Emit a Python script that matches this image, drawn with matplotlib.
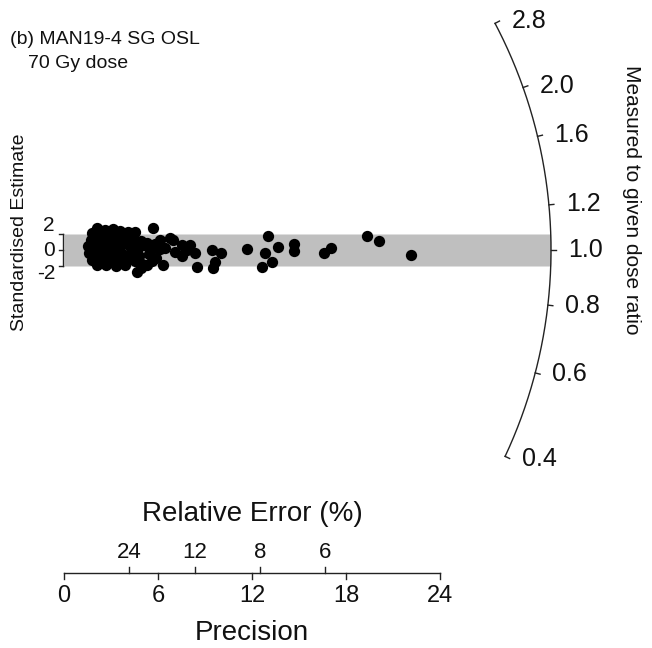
import numpy as np
import matplotlib
matplotlib.use("Agg")
import matplotlib.pyplot as plt

plt.rcParams['font.family'] = ['Liberation Sans', 'DejaVu Sans']

# precision (1/se) and standardised estimate of each aliquot
precision = [2.1, 2.6, 3.1, 3.6, 4.1, 4.5, 2.4, 3.8, 1.8,
             1.7, 2.2, 2.8, 3.3, 3.9, 4.4, 4.9, 5.3, 5.8, 3.0,
             1.5, 2.0, 2.5, 3.0, 3.6, 4.2, 4.7, 5.1, 5.6, 6.1,
             1.6, 2.1, 2.7, 3.2, 3.7, 4.3, 4.8, 5.4,
             1.8, 2.3, 2.9, 3.4, 4.0, 4.5, 5.0,
             2.1, 2.7, 3.3, 3.9,
             2.0, 2.5, 3.4, 4.0, 4.6, 3.0, 3.5, 4.1, 2.4, 4.4,
             4.64, 4.91, 5.30, 5.62,
             5.70, 6.13, 6.77, 6.45, 7.08, 7.51, 7.51, 7.85, 8.04, 8.36,
             8.51, 9.43, 9.53, 9.64, 10.0, 6.98, 6.34, 5.87, 11.66,
             13.04, 13.68, 12.83, 13.26, 12.62, 14.70, 14.70, 16.60, 17.04,
             19.32, 20.13, 22.13]
std_est = [2.7, 2.5, 2.6, 2.4, 2.3, 2.2, 2.0, 1.9, 2.1,
           1.3, 1.5, 1.4, 1.2, 1.5, 1.3, 1.1, 0.9, 0.8, 1.9,
           0.5, 0.6, 0.3, 0.7, 0.4, 0.5, 0.2, 0.6, 0.3, 0.1,
           -0.4, -0.6, -0.3, -0.7, -0.5, -0.2, -0.8, -0.5,
           -1.3, -1.5, -1.3, -1.6, -1.1, -1.4, -1.7,
           -1.9, -1.9, -2.0, -1.9,
           1.0, 0.9, 0.8, 1.0, 0.8, -0.1, 0.0, -0.9, -1.0, -0.6,
           -2.71, -2.25, -1.88, -1.38,
           2.71, 1.25, 1.5, 0.25, -0.25, 0.66, -0.79, 0.0, 0.66, -0.38,
           -2.16, 0.04, -2.25, -1.5, -0.38, 1.25, -1.84, -1.0, 0.09,
           1.71, 0.34, -0.38, -1.54, -2.16, 0.75, -0.09, -0.38, 0.25,
           1.71, 1.16, -0.66]

prec_ticks = [0, 6, 12, 18, 24]
relerr_ticks = [24, 12, 8, 6]
ratio_ticks = [0.4, 0.6, 0.8, 1.0, 1.2, 1.6, 2.0, 2.8]
ratio_labels = ['0.4', '0.6', '0.8', '1.0', '1.2', '1.6', '2.0', '2.8']
central = 1.0

# pixel geometry
W, H = 652, 648
ox, oy = 64, 250          # origin of the radial plot (pixels)
sx, sy = 15.667, 8.0      # pixels per unit
R = 487                   # arc radius in pixels


def X(px):
    return (px - ox) / sx


def Y(py):
    return (oy - py) / sy


fig = plt.figure(figsize=(W / 100, H / 100), dpi=100)
ax = fig.add_axes([0, 0, 1, 1])
ax.set_xlim(X(0), X(W))
ax.set_ylim(Y(H), Y(0))
ax.axis('off')

tc = '#111111'


def arc_point(r, rad):
    phi = np.arctan(np.log(r / central) * sy / sx)
    return rad * np.cos(phi) / sx, rad * np.sin(phi) / sy


# grey +-2 band
yb = np.linspace(-2, 2, 50)
xb = np.sqrt(R ** 2 - (yb * sy) ** 2) / sx
ax.fill_betweenx(yb, 0, xb, color='#bfbfbf', lw=0, zorder=1)

# arc
phis = np.arctan(np.log(np.array([min(ratio_ticks), max(ratio_ticks)]) / central) * sy / sx)
ph = np.linspace(phis[0], phis[1], 300)
ax.plot(R * np.cos(ph) / sx, R * np.sin(ph) / sy, color='#222222', lw=1, zorder=2)
for r, lab in zip(ratio_ticks, ratio_labels):
    x0, y0 = arc_point(r, R)
    x1, y1 = arc_point(r, R + 5)
    ax.plot([x0, x1], [y0, y1], color='#222222', lw=1, zorder=2)
    xl, yl = arc_point(r, R + 6)
    ax.text(xl + 11 / sx, yl, lab, ha='left', va='center', fontsize=18, color=tc)

ax.text(X(632), Y(200), 'Measured to given dose ratio', rotation=-90,
        ha='center', va='center', fontsize=15, color=tc)

# points
ax.scatter(precision, std_est, s=66, color='black', lw=0, zorder=3)

# standardised estimate bracket
ax.plot([X(63), X(63)], [-2, 2], color='#222222', lw=1)
for v in [-2, 0, 2]:
    ax.plot([X(59), X(63)], [v, v], color='#222222', lw=1)
for v, py in zip(['2', '0', '-2'], [225, 250, 273]):
    ax.text(X(55), Y(py), v, ha='right', va='center', fontsize=15, color=tc)
ax.text(X(20), Y(232), 'Standardised Estimate', rotation=90,
        ha='center', va='center', fontsize=14, color=tc)

# precision / relative error axis
ya = Y(573)
ax.plot([0, 24], [ya, ya], color='#222222', lw=1)
for t in prec_ticks:
    ax.plot([t, t], [ya, Y(579)], color='#222222', lw=1)
    ax.text(t, Y(596), str(t), ha='center', va='center', fontsize=17, color=tc)
for t in relerr_ticks:
    p = 100.0 / t
    ax.plot([p, p], [ya, Y(567)], color='#222222', lw=1)
    ax.text(p, Y(553), str(t), ha='center', va='center', fontsize=16, color=tc)
ax.text(X(252), Y(514), 'Relative Error (%)', ha='center', va='center',
        fontsize=20, color=tc)
ax.text(X(252), Y(633), 'Precision', ha='center', va='center',
        fontsize=20, color=tc)

# sample label
ax.text(X(10), Y(40), '(b) MAN19-4 SG OSL', ha='left', va='center',
        fontsize=14, color=tc)
ax.text(X(28), Y(64), '70 Gy dose', ha='left', va='center',
        fontsize=14, color=tc)

fig.savefig('out.png', dpi=100)
